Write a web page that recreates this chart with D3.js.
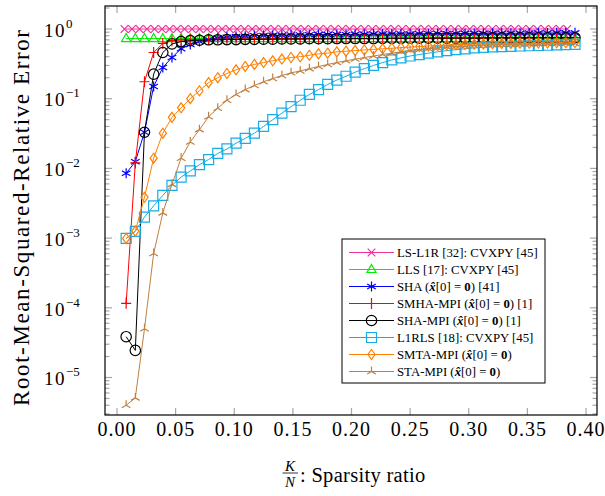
<!DOCTYPE html>
<html>
<head>
<meta charset="utf-8">
<script src="https://cdn.jsdelivr.net/npm/d3@7.9.0/dist/d3.min.js"></script>
<style>
  body { margin: 0; background: #fff; }
  svg { display: block; font-family: "Liberation Serif", "Times New Roman", serif; }
</style>
</head>
<body>
<svg id="chart" width="605" height="496"></svg>
<script>
// sparsity grid: K / N
const N = 256;
const K = d3.range(2, 101, 2);            // 50 sparsity levels used by most methods
const ratioLS = d3.range(1, 61).map(k => k * 0.0064); // LS-L1R was run on a finer grid

const xTicks = [0, 0.05, 0.10, 0.15, 0.20, 0.25, 0.30, 0.35, 0.40];
const yExponents = [0, -1, -2, -3, -4, -5];

// RMSRE values
const lsL1R = [1.0, 1.0, 1.0, 1.0, 1.0, 1.0, 1.0, 1.0, 1.0, 1.0,
  1.0, 1.0, 1.0, 1.0, 1.0, 1.0, 1.0, 1.0, 1.0, 1.0,
  1.0, 1.0, 1.0, 1.0, 1.0, 1.0, 1.0, 1.0, 1.0, 1.0,
  1.0, 1.0, 1.0, 1.0, 1.0, 1.0, 1.0, 1.0, 1.0, 1.0,
  1.0, 1.0, 1.0, 1.0, 1.0, 1.0, 1.0, 1.0, 1.0, 1.0,
  1.0, 1.0, 1.0, 1.0, 1.0, 1.0, 1.0, 1.0, 1.0, 1.0];
const lls = [0.73, 0.73, 0.73, 0.73, 0.73, 0.73, 0.73, 0.73, 0.73, 0.73,
  0.73, 0.73, 0.73, 0.73, 0.73, 0.73, 0.73, 0.73, 0.73, 0.73,
  0.73, 0.73, 0.73, 0.73, 0.73, 0.73, 0.73, 0.73, 0.73, 0.73,
  0.73, 0.73, 0.73, 0.73, 0.73, 0.73, 0.73, 0.73, 0.73, 0.73,
  0.73, 0.73, 0.73, 0.73, 0.73, 0.73, 0.73, 0.73, 0.73, 0.73];
const sha = [0.0085, 0.0125, 0.033, 0.15, 0.28, 0.39, 0.52, 0.60, 0.66, 0.70,
  0.74, 0.76, 0.78, 0.79, 0.80, 0.805, 0.81, 0.815, 0.82, 0.82,
  0.825, 0.83, 0.83, 0.835, 0.835, 0.84, 0.84, 0.845, 0.845, 0.85,
  0.85, 0.85, 0.855, 0.855, 0.86, 0.86, 0.86, 0.865, 0.865, 0.865,
  0.87, 0.87, 0.87, 0.87, 0.875, 0.875, 0.875, 0.88, 0.88, 0.88];
const smhaMpi = [1.16e-4, 0.012, 0.175, 0.46, 0.62, 0.68, 0.70, 0.70, 0.705, 0.705,
  0.71, 0.71, 0.71, 0.715, 0.715, 0.715, 0.72, 0.72, 0.72, 0.72,
  0.725, 0.725, 0.725, 0.725, 0.73, 0.73, 0.73, 0.73, 0.73, 0.735,
  0.735, 0.735, 0.735, 0.735, 0.74, 0.74, 0.74, 0.74, 0.74, 0.74,
  0.745, 0.745, 0.745, 0.745, 0.745, 0.75, 0.75, 0.75, 0.75, 0.75];
const shaMpi = [3.85e-5, 2.45e-5, 0.033, 0.225, 0.46, 0.61, 0.66, 0.68, 0.69, 0.70,
  0.70, 0.705, 0.705, 0.71, 0.71, 0.715, 0.715, 0.72, 0.72, 0.72,
  0.725, 0.725, 0.725, 0.73, 0.73, 0.73, 0.73, 0.73, 0.735, 0.735,
  0.735, 0.735, 0.735, 0.74, 0.74, 0.74, 0.74, 0.74, 0.74, 0.745,
  0.745, 0.745, 0.745, 0.745, 0.75, 0.75, 0.75, 0.75, 0.75, 0.75];
const l1rls = [9.9e-4, 1.25e-3, 2.0e-3, 2.9e-3, 4.1e-3, 5.7e-3, 7.5e-3, 9.2e-3, 0.0113, 0.0134,
  0.0164, 0.019, 0.023, 0.027, 0.032, 0.040, 0.050, 0.062, 0.077, 0.095,
  0.115, 0.135, 0.16, 0.185, 0.21, 0.24, 0.27, 0.30, 0.33, 0.36,
  0.385, 0.41, 0.43, 0.45, 0.47, 0.49, 0.505, 0.52, 0.535, 0.545,
  0.555, 0.56, 0.565, 0.57, 0.575, 0.58, 0.585, 0.59, 0.595, 0.60];
const smtaMpi = [9.9e-4, 1.26e-3, 3.85e-3, 0.014, 0.032, 0.054, 0.074, 0.10, 0.13, 0.17,
  0.20, 0.23, 0.26, 0.29, 0.31, 0.33, 0.35, 0.37, 0.39, 0.40,
  0.42, 0.44, 0.45, 0.47, 0.48, 0.49, 0.50, 0.51, 0.52, 0.53,
  0.54, 0.55, 0.56, 0.57, 0.58, 0.59, 0.595, 0.60, 0.605, 0.61,
  0.615, 0.62, 0.62, 0.625, 0.625, 0.63, 0.63, 0.635, 0.635, 0.64];
const staMpi = [4.0e-6, 5.1e-6, 5.0e-5, 6.0e-4, 2.3e-3, 5.9e-3, 0.014, 0.024, 0.036, 0.055,
  0.073, 0.095, 0.115, 0.135, 0.155, 0.175, 0.195, 0.215, 0.235, 0.25,
  0.27, 0.29, 0.31, 0.33, 0.35, 0.37, 0.39, 0.41, 0.43, 0.45,
  0.47, 0.49, 0.505, 0.52, 0.535, 0.55, 0.56, 0.57, 0.58, 0.59,
  0.595, 0.60, 0.60, 0.605, 0.61, 0.61, 0.615, 0.615, 0.62, 0.62];

const ratio = K.map(k => k / N);

// label parts: [text, style] where style is "" | "hat" | "bold"
const series = [
  { name: [["LS-L1R [32]: CVXPY [45]", ""]], x: ratioLS, y: lsL1R, color: "#f0309a", marker: "cross" },
  { name: [["LLS [17]: CVXPY [45]", ""]], x: ratio, y: lls, color: "#00ee00", marker: "triangle" },
  { name: [["SHA (", ""], ["x\u0302", "hat"], ["[0] = ", ""], ["0", "bold"], [") [41]", ""]], x: ratio, y: sha, color: "#0000ff", marker: "asterisk" },
  { name: [["SMHA-MPI (", ""], ["x\u0302", "hat"], ["[0] = ", ""], ["0", "bold"], [") [1]", ""]], x: ratio, y: smhaMpi, color: "#ff0000", marker: "plus" },
  { name: [["SHA-MPI (", ""], ["x\u0302", "hat"], ["[0] = ", ""], ["0", "bold"], [") [1]", ""]], x: ratio, y: shaMpi, color: "#000000", marker: "circle" },
  { name: [["L1RLS [18]: CVXPY [45]", ""]], x: ratio, y: l1rls, color: "#17ade6", marker: "square" },
  { name: [["SMTA-MPI (", ""], ["x\u0302", "hat"], ["[0] = ", ""], ["0", "bold"], [")", ""]], x: ratio, y: smtaMpi, color: "#ff8000", marker: "diamond" },
  { name: [["STA-MPI (", ""], ["x\u0302", "hat"], ["[0] = ", ""], ["0", "bold"], [")", ""]], x: ratio, y: staMpi, color: "#c08040", marker: "mercedes" }
];

const markerPaths = {
  cross: "M-3.8,-3.8L3.8,3.8M-3.8,3.8L3.8,-3.8",
  triangle: "M0,-5L4.6,3L-4.6,3Z",
  asterisk: "M0,-5L0,5M-4.3,-2.5L4.3,2.5M-4.3,2.5L4.3,-2.5",
  plus: "M-5,0L5,0M0,-5.5L0,5.5",
  square: "M-5,-5H5V5H-5Z",
  diamond: "M0,-5L3.6,0L0,5L-3.6,0Z",
  mercedes: "M0,0V-5M0,0L4.3,2.5M0,0L-4.3,2.5"
};

function drawMarker(sel, type, color) {
  if (type === "circle") {
    sel.append("circle").attr("r", 5.2)
      .attr("fill", "none").attr("stroke", color).attr("stroke-width", 1.2);
  } else {
    sel.append("path").attr("d", markerPaths[type])
      .attr("fill", "none").attr("stroke", color).attr("stroke-width", 1.2);
  }
}

const svg = d3.select("#chart");
const pLeft = 105, pRight = 597, pTop = 6, pBottom = 415;

const x = d3.scaleLinear().domain([0, 0.40]).range([117, 586]);
const y = d3.scaleLog().domain([1e-5, 1]).range([377.5, 29]);

// ticks
const tickColor = "#a8a8a8";
const ticks = svg.append("g").attr("stroke", tickColor).attr("stroke-width", 1.2);
xTicks.forEach(t => {
  ticks.append("line").attr("x1", x(t)).attr("x2", x(t)).attr("y1", pBottom).attr("y2", pBottom - 7);
  ticks.append("line").attr("x1", x(t)).attr("x2", x(t)).attr("y1", pTop).attr("y2", pTop + 7);
});
const yMin = y.invert(pBottom), yMax = y.invert(pTop);
for (let e = -6; e <= 0; e++) {
  for (let m = 1; m <= 9; m++) {
    const v = m * Math.pow(10, e);
    if (v < yMin || v > yMax) continue;
    const len = m === 1 ? 7 : 4.5;
    ticks.append("line").attr("x1", pLeft).attr("x2", pLeft + len).attr("y1", y(v)).attr("y2", y(v));
    ticks.append("line").attr("x1", pRight).attr("x2", pRight - len).attr("y1", y(v)).attr("y2", y(v));
  }
}

// series
const plot = svg.append("g");
const line = d3.line().x(d => x(d[0])).y(d => y(d[1]));
series.forEach(s => {
  const pts = s.x.map((xv, i) => [xv, s.y[i]]);
  plot.append("path").datum(pts).attr("d", line)
    .attr("fill", "none").attr("stroke", s.color).attr("stroke-width", 1);
  plot.selectAll(null).data(pts).enter().append("g")
    .attr("transform", d => `translate(${x(d[0])},${y(d[1])})`)
    .each(function () { drawMarker(d3.select(this), s.marker, s.color); });
});

// frame
svg.append("rect").attr("x", pLeft).attr("y", pTop)
  .attr("width", pRight - pLeft).attr("height", pBottom - pTop)
  .attr("fill", "none").attr("stroke", "#000").attr("stroke-width", 1.2);

// x tick labels
svg.append("g").selectAll("text").data(xTicks).enter().append("text")
  .attr("x", d => x(d)).attr("y", 436)
  .attr("text-anchor", "middle").attr("font-size", 20).attr("letter-spacing", 1)
  .text(d => d.toFixed(2));

// y tick labels: 10^e
const yl = svg.append("g").selectAll("text").data(yExponents).enter().append("text")
  .attr("x", 44).attr("y", d => y(Math.pow(10, d)) + 7.7).attr("font-size", 19);
yl.append("tspan").attr("letter-spacing", 1.5).text("10");
yl.append("tspan").attr("font-size", 13).attr("dy", -9)
  .text(d => d === 0 ? "0" : "\u2212" + Math.abs(d));

// y axis title
svg.append("text")
  .attr("transform", "translate(29,218) rotate(-90)")
  .attr("text-anchor", "middle").attr("font-size", 23)
  .attr("textLength", 376).attr("lengthAdjust", "spacing")
  .text("Root-Mean-Squared-Relative Error");

// x axis title: K/N fraction then text
svg.append("text").attr("x", 290).attr("y", 470.5).attr("text-anchor", "middle")
  .attr("font-size", 15).attr("font-style", "italic").text("K");
svg.append("line").attr("x1", 282.5).attr("x2", 298).attr("y1", 473).attr("y2", 473)
  .attr("stroke", "#000").attr("stroke-width", 0.8);
svg.append("text").attr("x", 290).attr("y", 487).attr("text-anchor", "middle")
  .attr("font-size", 15).attr("font-style", "italic").text("N");
svg.append("text").attr("x", 300).attr("y", 482).attr("font-size", 20.5)
  .attr("letter-spacing", 0.3)
  .text(": Sparsity ratio");

// legend
const lg = svg.append("g");
lg.append("rect").attr("x", 342).attr("y", 239).attr("width", 203).attr("height", 144)
  .attr("fill", "#fff").attr("stroke", "#000").attr("stroke-width", 1);
series.forEach((s, i) => {
  const ry = 252.5 + i * 17;
  lg.append("line").attr("x1", 349).attr("x2", 394).attr("y1", ry).attr("y2", ry)
    .attr("stroke", s.color).attr("stroke-width", 1);
  drawMarker(lg.append("g").attr("transform", `translate(371.5,${ry})`), s.marker, s.color);
  const t = lg.append("text").attr("x", 397).attr("y", ry + 4.5).attr("font-size", 12.8);
  s.name.forEach(([txt, style]) => {
    const ts = t.append("tspan").text(txt);
    if (style === "hat") ts.attr("font-weight", "bold").attr("font-style", "italic");
    if (style === "bold") ts.attr("font-weight", "bold");
  });
});
</script>
</body>
</html>
